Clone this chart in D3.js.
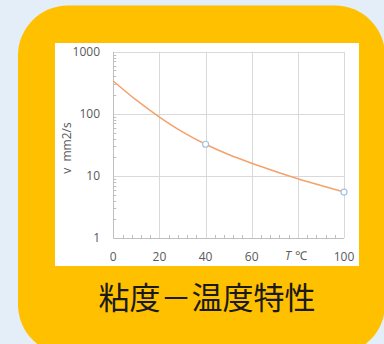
<!DOCTYPE html>
<html>
<head>
<meta charset="utf-8">
<script src="https://cdn.jsdelivr.net/npm/d3@7"></script>
<style>
  html, body { margin: 0; padding: 0; background: #e3eef8; }
  svg { display: block; }
</style>
</head>
<body>
<svg id="chart" width="384" height="344"></svg>
<script>
// Kinematic viscosity of the oil vs. temperature
const temps      = [0, 10, 20, 30, 40, 50, 60, 70, 80, 90, 100];
const viscosity  = [339, 166, 89, 51.3, 32.4, 22.1, 16.0, 11.9, 9.0, 7.0, 5.5];
const markTemps  = [40, 100];
const markVisc   = [32.4, 5.5];
const xTicks     = [0, 20, 40, 60, 80, 100];
const xTickText  = ["0", "20", "40", "60", "", "100"];
const yTicks     = [1, 10, 100, 1000];
const title      = "粘度－温度特性";
const yLabel     = "v  mm2/s";

const svg = d3.select("#chart");

// card background
svg.append("rect")
  .attr("x", 18).attr("y", 5.5).attr("width", 367).attr("height", 349)
  .attr("rx", 50).attr("ry", 50)
  .attr("fill", "#ffc000");

// chart panel
svg.append("rect")
  .attr("x", 55).attr("y", 43).attr("width", 304).attr("height", 223)
  .attr("fill", "#ffffff");

const x = d3.scaleLinear().domain([0, 100]).range([113.3, 344]);
const y = d3.scaleLog().domain([1, 1000]).range([238, 51.8]);

const tickFont = "'Open Sans', 'Noto Sans', sans-serif";
const gridColor = "#d9d9d9";
const axisColor = "#bfbfbf";

// grid
svg.append("g").selectAll("line").data(xTicks.slice(1)).join("line")
  .attr("x1", d => Math.round(x(d)) + 0.5).attr("x2", d => Math.round(x(d)) + 0.5)
  .attr("y1", y(1000)).attr("y2", y(1))
  .attr("stroke", gridColor).attr("stroke-width", 1);
svg.append("g").selectAll("line").data(yTicks.slice(1)).join("line")
  .attr("x1", x(0)).attr("x2", x(100))
  .attr("y1", d => Math.round(y(d)) + 0.5).attr("y2", d => Math.round(y(d)) + 0.5)
  .attr("stroke", gridColor).attr("stroke-width", 1);

// minor ticks on the log axis
const minorY = [];
[1, 10, 100].forEach(b => { for (let k = 2; k <= 9; k++) minorY.push(b * k); });
svg.append("g").selectAll("line").data(minorY).join("line")
  .attr("x1", x(0)).attr("x2", x(0) + 3)
  .attr("y1", d => Math.round(y(d)) + 0.5).attr("y2", d => Math.round(y(d)) + 0.5)
  .attr("stroke", axisColor).attr("stroke-width", 1);

// minor ticks on the temperature axis
const minorX = d3.range(4, 100, 4).filter(d => d % 20 !== 0);
svg.append("g").selectAll("line").data(minorX).join("line")
  .attr("x1", d => Math.round(x(d)) + 0.5).attr("x2", d => Math.round(x(d)) + 0.5)
  .attr("y1", y(1)).attr("y2", y(1) - 3)
  .attr("stroke", axisColor).attr("stroke-width", 1);

// axis lines
svg.append("line")
  .attr("x1", Math.round(x(0)) + 0.5).attr("x2", Math.round(x(0)) + 0.5)
  .attr("y1", y(1000)).attr("y2", y(1))
  .attr("stroke", axisColor);
svg.append("line")
  .attr("x1", x(0)).attr("x2", x(100))
  .attr("y1", Math.round(y(1)) + 0.5).attr("y2", Math.round(y(1)) + 0.5)
  .attr("stroke", axisColor);

// tick labels
svg.append("g").selectAll("text").data(yTicks).join("text")
  .attr("x", 100).attr("y", d => y(d))
  .attr("dy", "0.35em").attr("text-anchor", "end")
  .attr("font-family", tickFont).attr("font-size", 12).attr("fill", "#595959")
  .text(d => d);
svg.append("g").selectAll("text").data(xTicks).join("text")
  .attr("x", d => x(d)).attr("y", 257)
  .attr("dy", "0.35em").attr("text-anchor", "middle")
  .attr("font-family", tickFont).attr("font-size", 12).attr("fill", "#595959")
  .text((d, i) => xTickText[i]);

// temperature axis label
const tl = svg.append("text")
  .attr("x", 285).attr("y", 256).attr("dy", "0.35em")
  .attr("font-family", tickFont).attr("font-size", 12).attr("fill", "#595959");
tl.append("tspan").attr("font-style", "italic").text("T");
tl.append("tspan").attr("dx", 4).text("℃");

// viscosity axis label
svg.append("text")
  .attr("transform", "translate(67,148) rotate(-90)")
  .attr("text-anchor", "middle").attr("dy", "0.35em")
  .attr("font-family", tickFont).attr("font-size", 12).attr("fill", "#595959")
  .attr("xml:space", "preserve")
  .text(yLabel);

// curve
const line = d3.line()
  .x((d, i) => x(temps[i]))
  .y(d => y(d))
  .curve(d3.curveMonotoneX);
svg.append("path")
  .datum(viscosity)
  .attr("d", line)
  .attr("fill", "none")
  .attr("stroke", "#f4a26b")
  .attr("stroke-width", 1.5);

// measured points
svg.append("g").selectAll("circle").data(markVisc).join("circle")
  .attr("cx", (d, i) => x(markTemps[i])).attr("cy", d => y(d))
  .attr("r", 3)
  .attr("fill", "#ffffff")
  .attr("stroke", "#9dc3e6").attr("stroke-width", 1.2);

// title
svg.append("text")
  .attr("x", 207).attr("y", 298).attr("dy", "0.35em")
  .attr("text-anchor", "middle")
  .attr("font-family", "'Noto Sans CJK JP', sans-serif")
  .attr("font-size", 31).attr("fill", "#1a1a1a")
  .text(title);
</script>
</body>
</html>
